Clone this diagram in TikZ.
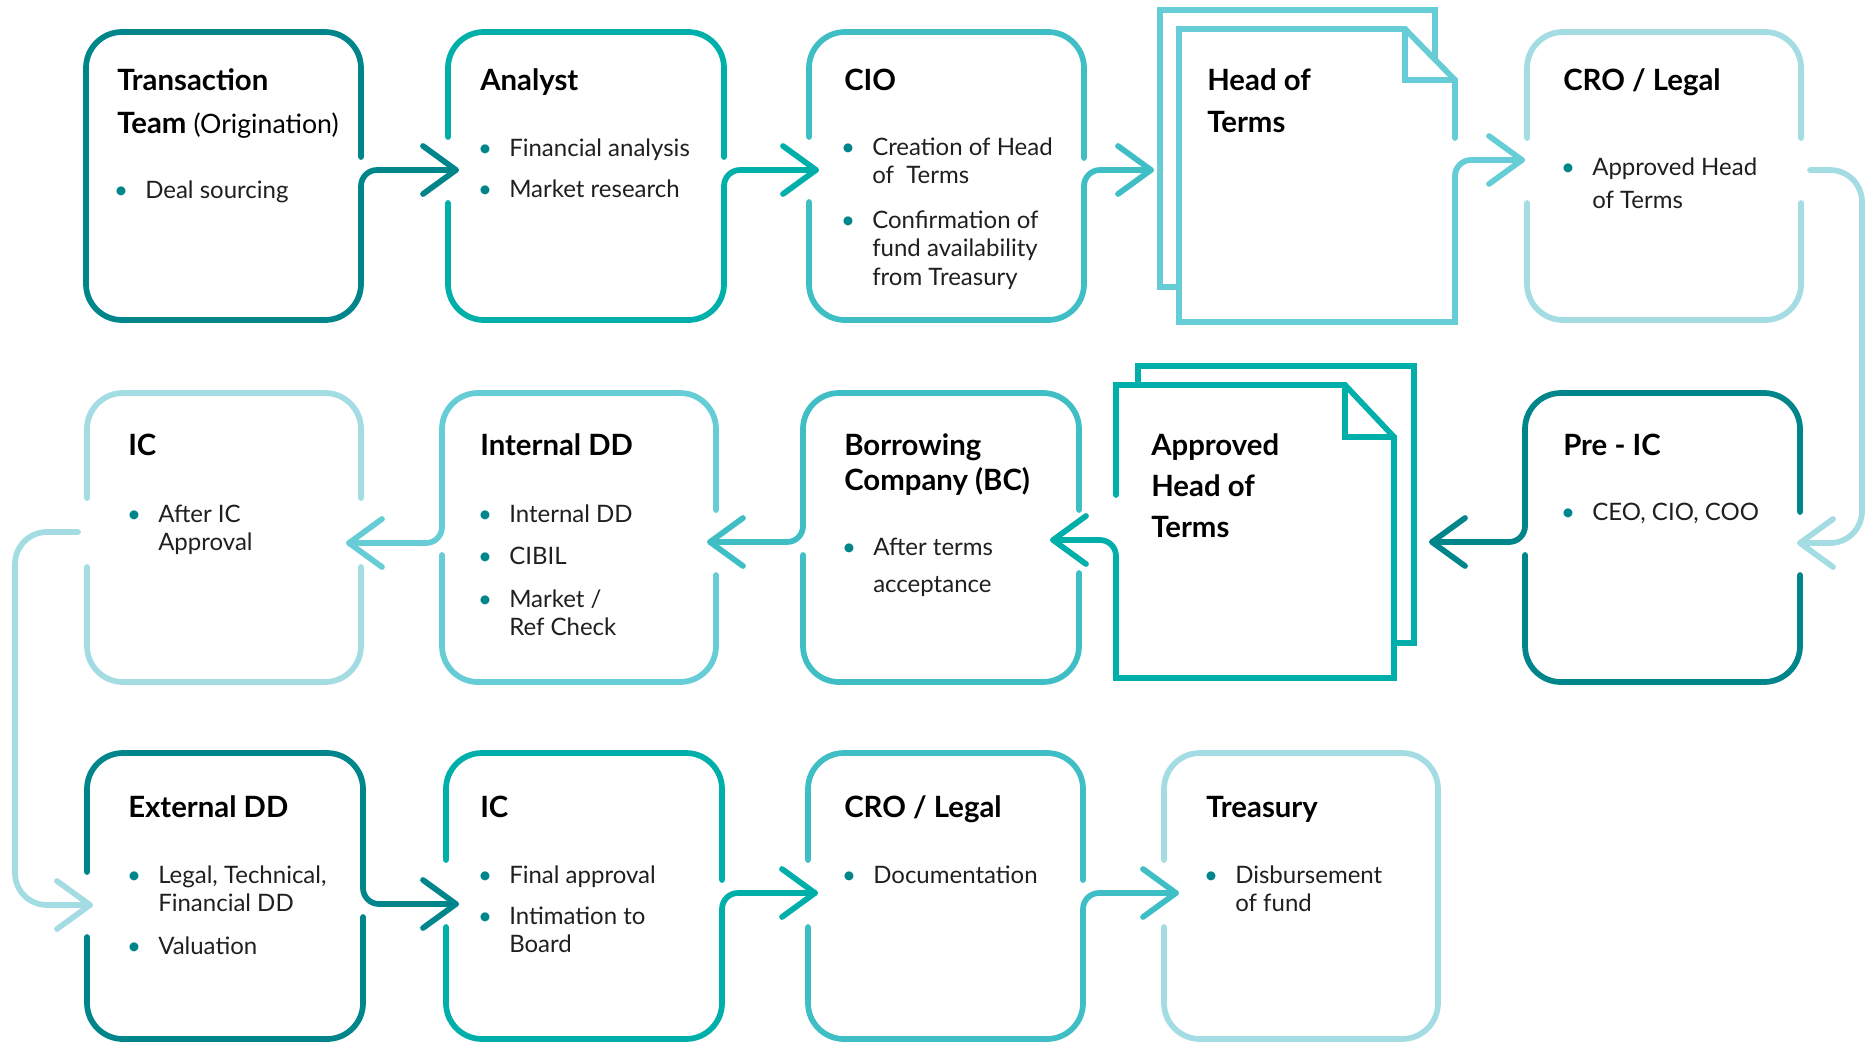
\documentclass[tikz,border=0pt]{standalone}
\usepackage{fontspec}
\setmainfont{Lato}
\usetikzlibrary{calc}
\definecolor{cA}{HTML}{00868A}
\definecolor{cB}{HTML}{00AFAA}
\definecolor{cC}{HTML}{3FBFC5}
\definecolor{cD}{HTML}{66CCD6}
\definecolor{cE}{HTML}{A3DCE3}
\newcommand\ml[1]{\begin{tabular}[t]{@{}l@{}}#1\end{tabular}}
\newcommand\bl{\llap{\textcolor{cA}{\textbullet}\hspace{13pt}}}
% box with gaps: x1,y1,x2,y2,colour, left-upper-end, left-lower-start, right-upper-end, right-lower-start
\newcommand\gbox[9]{%
  \draw[ln,#5,rounded corners=27pt] (#1,#6) -- (#1,#2) -- (#3,#2) -- (#3,#8);
  \draw[ln,#5,rounded corners=27pt] (#1,#7) -- (#1,#4) -- (#3,#4) -- (#3,#9);}
\newcommand\chevR[2]{\draw[ln,#2] ([shift={(-33,-24)}]#1) -- (#1) -- ([shift={(-33,24)}]#1);}
\newcommand\chevL[2]{\draw[ln,#2] ([shift={(33,-24)}]#1) -- (#1) -- ([shift={(33,24)}]#1);}
\tikzset{
  ln/.style={line width=4.3pt, line cap=round, line join=round},
  dln/.style={line width=4.3pt, line cap=round, line join=miter},
  conn/.style={ln, rounded corners=12pt},
  ttl/.style={anchor=base west, inner sep=0pt, font=\fontsize{22}{32}\selectfont\bfseries},
  bod/.style={anchor=base west, inner sep=0pt, font=\fontsize{18}{21.4}\selectfont, text=black!88},
}
\begin{document}
\begin{tikzpicture}[x=0.75pt,y=-0.75pt]
\useasboundingbox (0,0) rectangle (1870,1043);
% ---------- arrow tips ----------
\coordinate (a12) at (456,170);
\coordinate (a23) at (816,170);
\coordinate (a34) at (1151,170);
\coordinate (a45) at (1522,160);
\coordinate (s56) at (1810,170);
\coordinate (a56) at (1800,543);
\coordinate (a67) at (1432,542);
\coordinate (a78) at (1053,540);
\coordinate (a89) at (710,542);
\coordinate (a910) at (349,543);
\coordinate (s1011) at (78,532);
\coordinate (a1011) at (90,905);
\coordinate (a1112) at (456,904);
\coordinate (a1213) at (815,893);
\coordinate (a1314) at (1176,893);
% ================= ROW 1 =================
\gbox{86}{32}{361}{320}{cA}{176}{176}{157}{200}
\draw[conn,cA] (361,200) -- (361,170) -- (a12); \chevR{a12}{cA}
\gbox{448}{32}{724}{320}{cB}{137}{203}{157}{200}
\draw[conn,cB] (724,200) -- (724,170) -- (a23); \chevR{a23}{cB}
\gbox{809}{32}{1084}{320}{cC}{137}{202}{158}{200}
\draw[conn,cC] (1084,200) -- (1084,170) -- (a34); \chevR{a34}{cC}
% Head of Terms document
\draw[dln,cD] (1160,10) rectangle (1435,287);
\fill[white] (1179,29) -- (1405,29) -- (1455,80) -- (1455,322) -- (1179,322) -- cycle;
\draw[dln,cD] (1455,138) -- (1455,80) -- (1405,29) -- (1179,29) -- (1179,322) -- (1455,322) -- (1455,185);
\draw[dln,cD] (1405,29) -- (1405,80) -- (1455,80);
\draw[conn,cD] (1455,185) -- (1455,160) -- (a45); \chevR{a45}{cD}
\gbox{1527}{32}{1801}{320}{cE}{138}{203}{138}{203}
\draw[ln,cE,rounded corners=24pt] (s56) -- (1862,170) -- (1862,543) -- (a56); \chevL{a56}{cE}
% ================= ROW 2 =================
\draw[ln,cA,rounded corners=27pt] (1525,520) -- (1525,393) -- (1800,393) -- (1800,512);
\draw[ln,cA,rounded corners=27pt] (1525,555) -- (1525,682) -- (1800,682) -- (1800,575);
\draw[conn,cA] (1525,520) -- (1525,542) -- (a67); \chevL{a67}{cA}
% Approved Head of Terms document
\draw[dln,cB] (1138,366) rectangle (1414,643);
\fill[white] (1116,385) -- (1345,385) -- (1394,437) -- (1394,678) -- (1116,678) -- cycle;
\draw[dln,cB] (1116,495) -- (1116,385) -- (1345,385) -- (1394,437) -- (1394,678) -- (1116,678) -- (1116,560);
\draw[dln,cB] (1345,385) -- (1345,437) -- (1394,437);
\draw[conn,cB] (1116,560) -- (1116,540) -- (a78); \chevL{a78}{cB}
% Borrowing
\draw[ln,cC,rounded corners=27pt] (803,520) -- (803,393) -- (1079,393) -- (1079,510);
\draw[ln,cC,rounded corners=27pt] (803,555) -- (803,682) -- (1079,682) -- (1079,573);
\draw[conn,cC] (803,520) -- (803,542) -- (a89); \chevL{a89}{cC}
% Internal DD
\draw[ln,cD,rounded corners=27pt] (442,520) -- (442,393) -- (716,393) -- (716,510);
\draw[ln,cD,rounded corners=27pt] (442,555) -- (442,682) -- (716,682) -- (716,575);
\draw[conn,cD] (442,520) -- (442,543) -- (a910); \chevL{a910}{cD}
% IC
\gbox{87}{393}{361}{682}{cE}{498}{567}{498}{567}
\draw[ln,cE,rounded corners=24pt] (s1011) -- (15,532) -- (15,905) -- (a1011); \chevR{a1011}{cE}
% ================= ROW 3 =================
\draw[ln,cA,rounded corners=27pt] (87,872) -- (87,753) -- (363,753) -- (363,885);
\draw[ln,cA,rounded corners=27pt] (87,937) -- (87,1039) -- (363,1039) -- (363,917);
\draw[conn,cA] (363,885) -- (363,904) -- (a1112); \chevR{a1112}{cA}
\gbox{446}{753}{722}{1039}{cB}{860}{927}{880}{912}
\draw[conn,cB] (722,912) -- (722,893) -- (a1213); \chevR{a1213}{cB}
\gbox{808}{753}{1083}{1039}{cC}{860}{927}{880}{912}
\draw[conn,cC] (1083,912) -- (1083,893) -- (a1314); \chevR{a1314}{cC}
\gbox{1164}{753}{1438}{1039}{cE}{860}{927}{896}{896}
% ================= TEXT =================
\node[ttl,font=\fontsize{22}{32.25}\selectfont\bfseries] (t1) at (117,90) {\ml{Transaction\\Team {\mdseries\fontsize{20}{32.25}\selectfont (Origination)}}};
\node[bod] (b1) at (145,198) {\ml{\bl Deal sourcing}};
\node[ttl] (t2) at (480,90) {Analyst};
\node[bod] (b2) at (509,156) {\ml{\bl Financial analysis\\[10pt] \bl Market research}};
\node[ttl] (t3) at (844,90) {CIO};
\node[bod] (b3) at (872,155) {\ml{\bl Creation of Head\\ of~~Terms\\[12pt] \bl Confirmation of\\ fund availability\\ from Treasury}};
\node[ttl,font=\fontsize{22}{31.5}\selectfont\bfseries] (t4) at (1207,90) {\ml{Head of\\Terms}};
\node[ttl] (t5) at (1563,90) {CRO / Legal};
\node[bod] (b5) at (1592,175) {\ml{\bl Approved Head\\[3.4pt] of Terms}};
\node[ttl] (t6) at (1563,455) {Pre - IC};
\node[bod] (b6) at (1592,520) {\ml{\bl CEO, CIO, COO}};
\node[ttl,font=\fontsize{22}{30.75}\selectfont\bfseries] (t7) at (1151,455) {\ml{Approved\\Head of\\Terms}};
\node[ttl,font=\fontsize{22}{26.25}\selectfont\bfseries] (t8) at (844,455) {\ml{Borrowing\\Company (BC)}};
\node[bod] (b8) at (873,555) {\ml{\bl After terms\\[6.4pt] acceptance}};
\node[ttl] (t9) at (480,455) {Internal DD};
\node[bod] (b9) at (509,522) {\ml{\bl Internal DD\\[10.5pt] \bl CIBIL\\[10.5pt] \bl Market /\\ Ref Check}};
\node[ttl] (t10) at (128,455) {IC};
\node[bod] (b10) at (158,522) {\ml{\bl After IC\\ Approval}};
\node[ttl] (t11) at (128,817) {External DD};
\node[bod] (b11) at (158,883) {\ml{\bl Legal, Technical,\\ Financial DD\\[10.5pt] \bl Valuation}};
\node[ttl] (t12) at (480,817) {IC};
\node[bod] (b12) at (509,883) {\ml{\bl Final approval\\[9.5pt] \bl Intimation to\\ Board}};
\node[ttl] (t13) at (844,817) {CRO / Legal};
\node[bod] (b13) at (873,883) {\ml{\bl Documentation}};
\node[ttl] (t14) at (1206,817) {Treasury};
\node[bod] (b14) at (1235,883) {\ml{\bl Disbursement\\ of fund}};
\end{tikzpicture}
\end{document}
